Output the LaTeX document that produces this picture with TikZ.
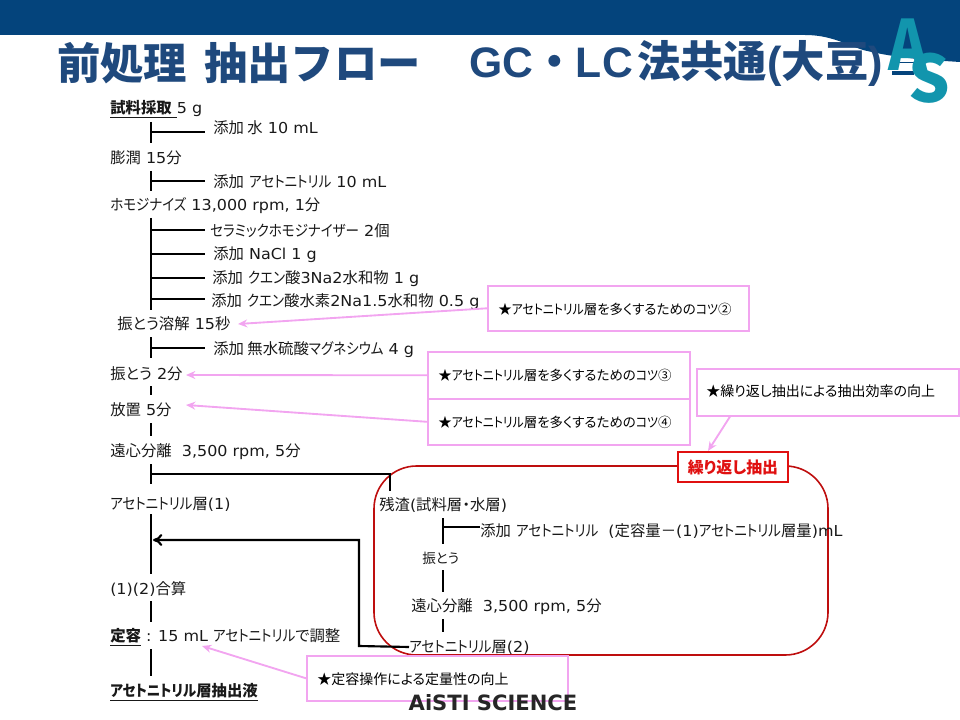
\documentclass[tikz,border=0pt]{standalone}
\usepackage{fontspec}
\usepackage{graphicx}
\usetikzlibrary{arrows.meta}
\setmainfont[FakeStretch=1.06]{DejaVu Sans}
\newfontfamily\lb{DejaVu Sans}
\newfontfamily\jp[RawFeature={+palt},Scale=1.02]{Noto Sans CJK JP}
\newfontfamily\jk[RawFeature={+palt},Scale=1.02,FakeStretch=0.88]{Noto Sans CJK JP}
\newfontfamily\jt{Noto Sans CJK JP}
\newfontfamily\lt{Liberation Sans}
\newcommand{\J}[1]{{\jp #1}}
\newcommand{\K}[1]{{\jk #1}}
\definecolor{navy}{HTML}{04447C}
\definecolor{titleblue}{HTML}{1F497D}
\definecolor{teal}{HTML}{1295AD}
\definecolor{pinkln}{HTML}{F2A5F0}
\definecolor{redln}{HTML}{E01010}
\tikzset{
 txt/.style={anchor=west,inner sep=0pt,font=\fontsize{11.3pt}{13pt}\selectfont,text=black!90},
 small/.style={txt,font=\fontsize{10pt}{12pt}\selectfont},
 tip/.style={draw=pinkln,line width=1.2pt,fill=white,anchor=north west,inner sep=0pt},
 tiptext/.style={anchor=west,inner sep=0pt,font=\fontsize{9.9pt}{12pt}\selectfont,text=black},
 tiptextb/.style={tiptext,font=\fontsize{10.3pt}{12pt}\selectfont},
 flow/.style={draw=black,line width=1.6pt},
 parrow/.style={draw=pinkln,line width=1.4pt,-{Stealth[length=7pt,width=6pt]}},
 ttl/.style={anchor=west,inner sep=0pt,text=titleblue,font=\fontsize{32.5pt}{36pt}\selectfont},
}
\begin{document}
\begin{tikzpicture}[x=0.75pt,y=-0.75pt]
\useasboundingbox (0,0) rectangle (960,720);
\fill[navy] (0,0) -- (960,0) -- (960,62) .. controls (930,60) and (900,59) .. (863,50) .. controls (845,44) and (830,35) .. (805,35) -- (0,35) -- cycle;
% logo
\fill[navy] (892,62) rectangle (917,63.5);
\fill[navy] (892,71) rectangle (914,75);
\node[anchor=center,inner sep=0pt,text=teal,font=\fontsize{52pt}{52pt}\selectfont] (logoA) at (908,45) {\scalebox{0.85}[1]{\jt\bfseries A}};
\node[anchor=center,inner sep=0pt,text=teal,font=\fontsize{49pt}{49pt}\selectfont] (logoS) at (929,78) {\jt\bfseries S};
% title
\node[ttl] (title1) at (57,63) {\jt\bfseries 前処理};
\node[ttl] (title2) at (204,63) {\jt\bfseries 抽出フロー};
\node[ttl,font=\fontsize{32pt}{36pt}\selectfont] (title3) at (469,63) {\lt\bfseries GC{\jt・}LC};
\node[ttl] (title4) at (637,63) {\jt\bfseries 法共通{\lt(}大豆{\lt)}};
% red rounded box
\draw[draw=redln!85!black,line width=1.2pt,rounded corners=32pt] (374,466) rectangle (828,655);
% text
\node[txt] (n1) at (110,109) {\underline{\J{\bfseries 試料採取} }5 g};
\node[txt] (a1) at (213,128) {\J{添加 水} 10 mL};
\node[txt] (n2) at (110,158) {\J{膨潤} 15\J{分}};
\node[txt] (a2) at (213,182) {\J{添加} \K{アセトニトリル} 10 mL};
\node[txt] (n3) at (110,206) {\K{ホモジナイズ} 13,000 rpm, 1\J{分}};
\node[txt] (a3) at (210,231) {\K{セラミックホモジナイザー} 2\J{個}};
\node[txt] (a4) at (213,255) {\J{添加} NaCl 1 g};
\node[txt] (a5) at (212,279) {\J{添加} \K{クエン}\J{酸}3Na2\J{水和物} 1 g};
\node[txt] (a6) at (211,302) {\J{添加} \K{クエン}\J{酸水素}2Na1.5\J{水和物} 0.5 g};
\node[txt] (n4) at (117,324) {\J{振とう溶解} 15\J{秒}};
\node[txt] (a7) at (213,350) {\J{添加 無水硫酸}\K{マグネシウム} 4 g};
\node[txt] (n5) at (110,374) {\J{振とう} 2\J{分}};
\node[txt] (n6) at (110,410) {\J{放置} 5\J{分}};
\node[txt] (n7) at (110,452) {\J{遠心分離}\ \ 3,500 rpm, 5\J{分}};
\node[txt] (n8) at (110,504) {\K{アセトニトリル}\J{層}(1)};
\node[txt] (n9) at (110,589) {(1)(2)\J{合算}};
\node[txt] (n10) at (110,637) {\underline{\J{\bfseries 定容}}\ : 15 mL \K{アセトニトリル}\J{で調整}};
\node[txt] (n11) at (110,692) {\underline{\K{\bfseries アセトニトリル}\J{\bfseries 層抽出液}}};
\node[txt] (r1) at (379,505) {\J{残渣}(\J{試料層・水層})};
\node[txt] (r2) at (480,531) {\J{添加} \K{アセトニトリル}\ \ (\J{定容量－}(1)\K{アセトニトリル}\J{層量})mL};
\node[small] (r3) at (422,558) {\J{振とう}};
\node[txt] (r4) at (411,607) {\J{遠心分離}\ \ 3,500 rpm, 5\J{分}};
\node[txt] (r5) at (409,647) {\K{アセトニトリル}\J{層}(2)};
% flow lines
\coordinate (m1) at (151,132); \coordinate (m2) at (151,181);
\coordinate (m3a) at (151,230); \coordinate (m3b) at (151,254); \coordinate (m3c) at (151,278); \coordinate (m3d) at (151,299);
\coordinate (m4) at (151,348); \coordinate (m8) at (151,474);
\coordinate (m9) at (153,540);
\draw[flow] (151,122) -- (151,143); \draw[flow] (m1) -- (205,132);
\draw[flow] (151,171) -- (151,191); \draw[flow] (m2) -- (205,181);
\draw[flow] (151,218) -- (151,310);
\foreach \c in {m3a,m3b,m3c,m3d} \draw[flow] (\c) -- ++(54,0);
\draw[flow] (151,337) -- (151,358); \draw[flow] (m4) -- (205,348);
\draw[flow] (151,386) -- (151,395);
\draw[flow] (151,423) -- (151,436);
\draw[flow] (151,464) -- (151,484);
\coordinate (b1) at (390,474);
\draw[flow] (m8) -- (b1) -- (390,491);
\draw[flow] (151,514) -- (151,574);
\draw[flow] (151,601) -- (151,622);
\draw[flow] (151,649) -- (151,676);
\draw[flow,-{To[length=7pt,width=9pt]}] (r5.west) -- (359,646) -- (359,540) -- (m9);
% right column
\draw[flow] (443,518) -- (443,544); \draw[flow] (443,527) -- (480,527);
\draw[flow] (443,570) -- (443,592);
\draw[flow] (443,619) -- (443,632);
% tips
\node[tip,minimum width=195.75pt,minimum height=33.75pt] (t2) at (487,285) {};
\node[tiptext] (t2x) at (498,309) {\J{★}\K{アセトニトリル}\J{層を多くするための}\K{コツ}\J{②}};
\node[tip,minimum width=196.5pt,minimum height=35.25pt] (t3) at (427,351) {};
\node[tiptext] (t3x) at (438,375) {\J{★}\K{アセトニトリル}\J{層を多くするための}\K{コツ}\J{③}};
\node[tip,minimum width=196.5pt,minimum height=34.5pt] (t4) at (427,398) {};
\node[tiptext] (t4x) at (438,422) {\J{★}\K{アセトニトリル}\J{層を多くするための}\K{コツ}\J{④}};
\node[tip,minimum width=196.5pt,minimum height=35.25pt] (t5) at (696,368) {};
\node[tiptextb] (t5x) at (706,391) {\J{★繰り返し抽出による抽出効率の向上}};
\node[tip,minimum width=195.75pt,minimum height=33.75pt] (t6) at (306,655) {};
\node[tiptextb] (t6x) at (317,679) {\J{★定容操作による定量性の向上}};
\node[draw=redln,line width=1.5pt,fill=white,anchor=north west,inner sep=0pt,minimum width=82.5pt,minimum height=22.5pt,text=redln,font=\fontsize{11.7pt}{13pt}\selectfont] (lab) at (677,451) {\J{\bfseries 繰り返し抽出}};
% arrows
\coordinate (e2) at (238,324); \coordinate (e3) at (186,375);
\coordinate (e4) at (186,405); \coordinate (e5) at (708,451); \coordinate (e6) at (202,646);
\draw[parrow] (t2.west) -- (e2);
\draw[parrow] (t3.west) -- (e3);
\draw[parrow] (t4.west) -- (e4);
\draw[parrow] (t5.south west) ++(34,0) -- (e5);
\draw[parrow] (t6.west) -- (e6);
% bottom logo
\node[anchor=center,inner sep=0pt,text=black!85,font=\fontsize{15.8pt}{18pt}\selectfont] (logoB) at (493,703) {\lb\bfseries AiSTI SCIENCE};
\end{tikzpicture}
\end{document}
